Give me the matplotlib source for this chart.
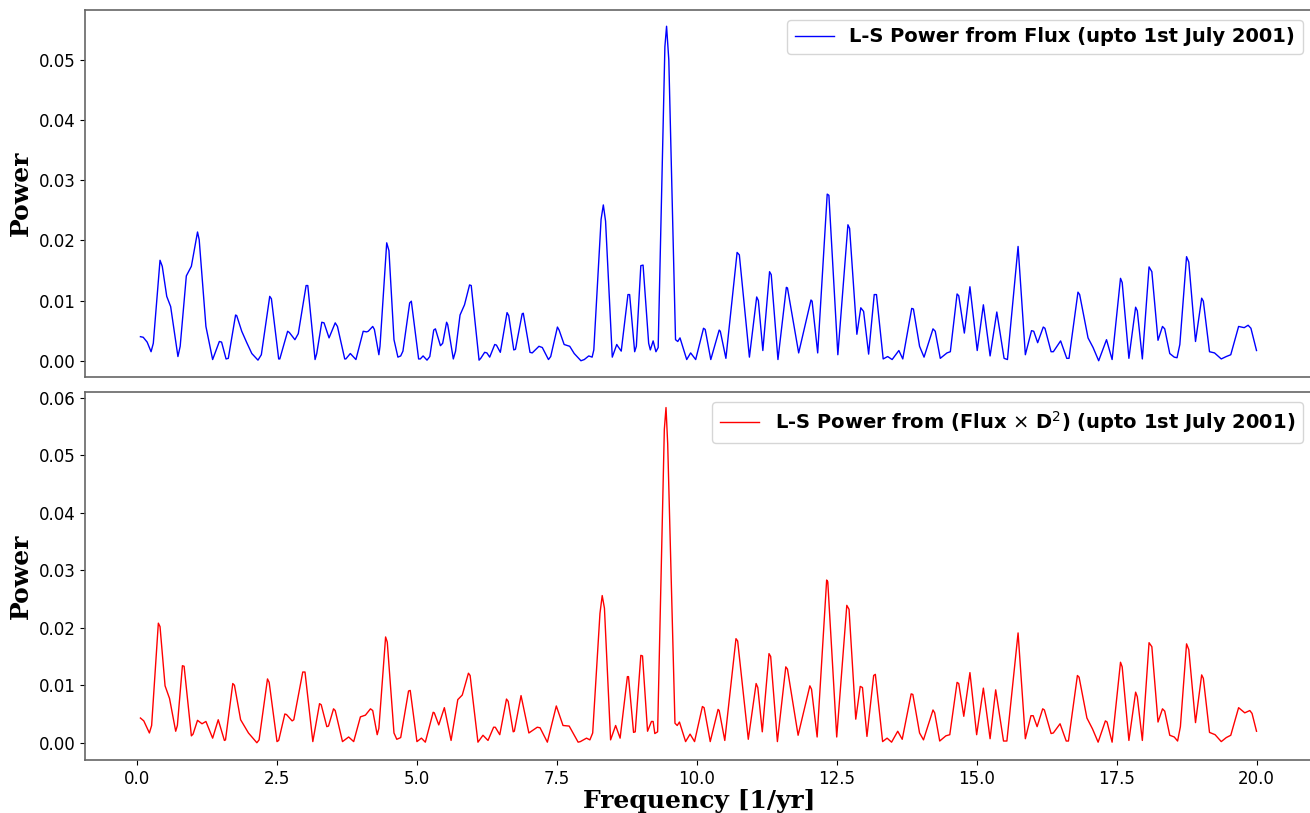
import matplotlib
matplotlib.use("Agg")
import matplotlib.pyplot as plt

# L-S power, top panel (Flux)
flux_freq = [
    0.06, 0.11, 0.18, 0.25, 0.29, 0.41, 0.45, 0.53, 0.60, 0.73, 0.77, 0.88, 0.97,
    1.08, 1.11, 1.23, 1.35, 1.47, 1.51, 1.59, 1.63, 1.76, 1.78, 1.87, 1.96, 2.05,
    2.16, 2.22, 2.37, 2.40, 2.53, 2.55, 2.69, 2.72, 2.82, 2.88, 3.02, 3.05, 3.18,
    3.21, 3.30, 3.34, 3.43, 3.54, 3.58, 3.71, 3.73, 3.81, 3.91, 4.04, 4.10, 4.13,
    4.21, 4.24, 4.32, 4.34, 4.46, 4.50, 4.59, 4.66, 4.71, 4.75, 4.87, 4.90, 5.03,
    5.06, 5.11, 5.18, 5.23, 5.30, 5.33, 5.42, 5.46, 5.53, 5.55, 5.65, 5.69, 5.77,
    5.85, 5.94, 5.97, 6.11, 6.14, 6.21, 6.25, 6.30, 6.39, 6.42, 6.49, 6.61, 6.64,
    6.73, 6.76, 6.88, 6.90, 7.02, 7.06, 7.18, 7.24, 7.35, 7.39, 7.51, 7.54, 7.63,
    7.73, 7.81, 7.93, 7.99, 8.07, 8.13, 8.16, 8.29, 8.33, 8.37, 8.49, 8.57, 8.59,
    8.65, 8.77, 8.80, 8.89, 8.92, 9.00, 9.04, 9.14, 9.17, 9.22, 9.27, 9.31, 9.43,
    9.46, 9.50, 9.62, 9.66, 9.70, 9.82, 9.89, 9.98, 10.12, 10.15, 10.25, 10.40,
    10.42, 10.52, 10.72, 10.76, 10.94, 11.07, 11.10, 11.18, 11.30, 11.33, 11.45,
    11.60, 11.62, 11.82, 12.04, 12.06, 12.16, 12.33, 12.36, 12.52, 12.70, 12.73,
    12.86, 12.93, 12.98, 13.07, 13.17, 13.21, 13.33, 13.41, 13.49, 13.61, 13.68,
    13.84, 13.87, 13.98, 14.06, 14.22, 14.26, 14.35, 14.47, 14.53, 14.65, 14.68,
    14.78, 14.88, 15.01, 15.12, 15.24, 15.36, 15.49, 15.55, 15.74, 15.87, 15.98,
    16.02, 16.09, 16.19, 16.22, 16.33, 16.37, 16.50, 16.61, 16.65, 16.81, 16.84,
    16.99, 17.08, 17.18, 17.32, 17.42, 17.57, 17.60, 17.72, 17.84, 17.87, 17.96,
    18.08, 18.13, 18.24, 18.32, 18.36, 18.45, 18.53, 18.58, 18.63, 18.75, 18.79,
    18.91, 19.02, 19.05, 19.16, 19.25, 19.37, 19.46, 19.54, 19.68, 19.78, 19.85,
    19.90, 20.00,
]
flux_power = [
    .0040, .0039, .0031, .0015, .0029, .0167, .0157, .0107, .0090, .0007, .0024, .0141, .0157,
    .0214, .0201, .0057, .0002, .0032, .0031, .0003, .0004, .0076, .0075, .0049, .0030, .0012,
    .0001, .0010, .0107, .0103, .0003, .0003, .0049, .0047, .0035, .0045, .0125, .0125, .0002,
    .0012, .0064, .0063, .0038, .0063, .0057, .0003, .0003, .0012, .0002, .0049, .0048, .0049,
    .0057, .0052, .0010, .0024, .0196, .0183, .0035, .0006, .0008, .0016, .0096, .0099, .0003,
    .0003, .0008, .0001, .0007, .0051, .0053, .0025, .0029, .0064, .0060, .0003, .0016, .0076,
    .0093, .0126, .0125, .0001, .0004, .0014, .0013, .0006, .0027, .0026, .0014, .0080, .0075,
    .0018, .0019, .0078, .0079, .0014, .0013, .0024, .0022, .0002, .0007, .0056, .0051, .0027,
    .0024, .0012, .0000, .0002, .0008, .0006, .0018, .0235, .0259, .0232, .0006, .0027, .0024,
    .0016, .0110, .0110, .0015, .0024, .0158, .0159, .0029, .0018, .0033, .0015, .0022, .0522,
    .0556, .0500, .0035, .0032, .0038, .0002, .0013, .0002, .0054, .0052, .0002, .0051,
    .0049, .0004, .0180, .0176, .0006, .0106, .0100, .0017, .0148, .0143, .0002,
    .0122, .0121, .0013, .0101, .0099, .0013, .0277, .0275, .0010, .0226, .0220,
    .0044, .0088, .0082, .0011, .0110, .0110, .0003, .0007, .0002, .0017, .0003,
    .0087, .0086, .0024, .0006, .0053, .0049, .0004, .0013, .0015, .0111, .0108,
    .0046, .0123, .0017, .0093, .0008, .0081, .0004, .0002, .0190, .0010, .0050,
    .0049, .0030, .0056, .0054, .0015, .0015, .0033, .0004, .0004, .0114, .0110,
    .0038, .0022, .0000, .0035, .0002, .0137, .0130, .0004, .0089, .0083, .0003,
    .0156, .0148, .0034, .0057, .0053, .0012, .0006, .0005, .0027, .0173, .0164,
    .0032, .0104, .0099, .0015, .0013, .0003, .0007, .0010, .0057, .0055, .0059,
    .0054, .0017,
]

# bottom panel (Flux x D^2)
fluxd2_freq = [
    0.06, 0.12, 0.22, 0.26, 0.38, 0.41, 0.50, 0.58, 0.69, 0.72, 0.81, 0.84, 0.97,
    1.00, 1.08, 1.16, 1.23, 1.35, 1.45, 1.56, 1.58, 1.71, 1.74, 1.85, 1.99, 2.14,
    2.18, 2.33, 2.36, 2.50, 2.53, 2.64, 2.67, 2.77, 2.80, 2.96, 3.00, 3.14, 3.26,
    3.29, 3.39, 3.42, 3.51, 3.54, 3.67, 3.78, 3.87, 3.99, 4.08, 4.17, 4.21, 4.29,
    4.32, 4.44, 4.47, 4.59, 4.64, 4.71, 4.85, 4.88, 5.00, 5.08, 5.15, 5.29, 5.31,
    5.39, 5.49, 5.61, 5.73, 5.81, 5.92, 5.95, 6.09, 6.18, 6.27, 6.37, 6.40, 6.48,
    6.60, 6.63, 6.72, 6.74, 6.86, 7.00, 7.15, 7.20, 7.33, 7.49, 7.61, 7.72, 7.88,
    7.92, 8.03, 8.09, 8.14, 8.27, 8.31, 8.35, 8.46, 8.55, 8.63, 8.76, 8.78, 8.87,
    8.90, 9.00, 9.03, 9.12, 9.19, 9.22, 9.25, 9.30, 9.42, 9.45, 9.48, 9.61, 9.65,
    9.69, 9.80, 9.88, 9.96, 10.10, 10.13, 10.24, 10.38, 10.40, 10.50, 10.70, 10.73,
    10.92, 11.06, 11.09, 11.17, 11.29, 11.32, 11.44, 11.59, 11.62, 11.81, 12.02,
    12.05, 12.15, 12.32, 12.34, 12.50, 12.68, 12.72, 12.84, 12.92, 12.96, 13.04,
    13.16, 13.19, 13.32, 13.40, 13.48, 13.59, 13.67, 13.83, 13.86, 13.98, 14.05,
    14.22, 14.25, 14.34, 14.45, 14.52, 14.65, 14.68, 14.77, 14.88, 15.00, 15.12,
    15.24, 15.34, 15.48, 15.54, 15.74, 15.87, 15.97, 16.01, 16.08, 16.18, 16.21,
    16.33, 16.37, 16.49, 16.60, 16.64, 16.80, 16.83, 16.97, 17.07, 17.17, 17.30,
    17.33, 17.42, 17.57, 17.60, 17.72, 17.84, 17.87, 17.96, 18.08, 18.13, 18.24,
    18.32, 18.36, 18.45, 18.53, 18.59, 18.64, 18.75, 18.79, 18.91, 19.02, 19.05,
    19.16, 19.26, 19.37, 19.46, 19.54, 19.68, 19.79, 19.88, 19.92, 20.00,
]
fluxd2_power = [
    .0043, .0038, .0017, .0030, .0208, .0202, .0099, .0077, .0020, .0030, .0134, .0133, .0012,
    .0015, .0039, .0033, .0037, .0008, .0040, .0004, .0005, .0103, .0100, .0040, .0017, .0000,
    .0005, .0111, .0105, .0002, .0004, .0050, .0049, .0038, .0040, .0123, .0123, .0002, .0068,
    .0066, .0028, .0029, .0059, .0056, .0002, .0010, .0002, .0045, .0048, .0059, .0056, .0014,
    .0025, .0184, .0175, .0017, .0006, .0009, .0090, .0091, .0002, .0008, .0001, .0053, .0052,
    .0031, .0061, .0004, .0075, .0083, .0121, .0117, .0001, .0013, .0004, .0027, .0027, .0014,
    .0076, .0072, .0019, .0020, .0082, .0017, .0027, .0026, .0001, .0064, .0030, .0029, .0001,
    .0002, .0008, .0005, .0017, .0225, .0256, .0234, .0005, .0030, .0008, .0115, .0115, .0018,
    .0019, .0152, .0151, .0020, .0037, .0037, .0016, .0019, .0545, .0583, .0520, .0034, .0030,
    .0036, .0002, .0015, .0002, .0063, .0061, .0002, .0058, .0056, .0004, .0181, .0177,
    .0006, .0103, .0096, .0019, .0155, .0150, .0002, .0132, .0128, .0013, .0099,
    .0093, .0010, .0283, .0280, .0010, .0239, .0232, .0041, .0098, .0096, .0011,
    .0117, .0119, .0002, .0008, .0001, .0020, .0006, .0085, .0084, .0017, .0005,
    .0057, .0052, .0003, .0012, .0014, .0105, .0103, .0046, .0122, .0014, .0095,
    .0007, .0092, .0003, .0003, .0191, .0007, .0047, .0047, .0028, .0059, .0057,
    .0016, .0017, .0033, .0003, .0003, .0117, .0114, .0043, .0024, .0001, .0038,
    .0036, .0001, .0140, .0132, .0004, .0088, .0080, .0004, .0174, .0167, .0036,
    .0059, .0055, .0013, .0010, .0003, .0028, .0172, .0162, .0035, .0118, .0112,
    .0018, .0014, .0002, .0009, .0013, .0061, .0052, .0056, .0051, .0020,
]

xticks = [0.0, 2.5, 5.0, 7.5, 10.0, 12.5, 15.0, 17.5, 20.0]

SPINE = "0.4"

fig = plt.figure(figsize=(13.1, 8.13), dpi=100, facecolor="white")
ax_top = fig.add_axes([0.0649, 0.5363, 0.937, 0.4514])
ax_bot = fig.add_axes([0.0649, 0.0652, 0.937, 0.4526])

ax_top.plot(flux_freq, flux_power, color="blue", linewidth=1.0,
            label="L-S Power from Flux (upto 1st July 2001)")
ax_bot.plot(fluxd2_freq, fluxd2_power, color="red", linewidth=1.0,
            label=r"L-S Power from (Flux $\times$ D$^2$) (upto 1st July 2001)")

for ax in (ax_top, ax_bot):
    ax.set_xlim(-0.93, 21.0)
    ax.set_ylabel("Power", family="DejaVu Serif", fontweight="bold", fontsize=18)
    ax.tick_params(labelsize=12)
    for sp in ax.spines.values():
        sp.set_color(SPINE)
        sp.set_linewidth(1.2)
    ax.legend(loc="upper right", prop={"weight": "bold", "size": 14})

ax_top.set_ylim(-0.0027, 0.0583)
ax_bot.set_ylim(-0.0030, 0.0610)
ax_top.set_yticks([0.00, 0.01, 0.02, 0.03, 0.04, 0.05])
ax_bot.set_yticks([0.00, 0.01, 0.02, 0.03, 0.04, 0.05, 0.06])
ax_top.tick_params(axis="x", bottom=False, labelbottom=False)
ax_bot.set_xticks(xticks)
ax_bot.set_xlabel("Frequency [1/yr]", family="DejaVu Serif", fontweight="bold",
                  fontsize=18, labelpad=1)

fig.savefig("out.png", dpi=100, facecolor="white")
